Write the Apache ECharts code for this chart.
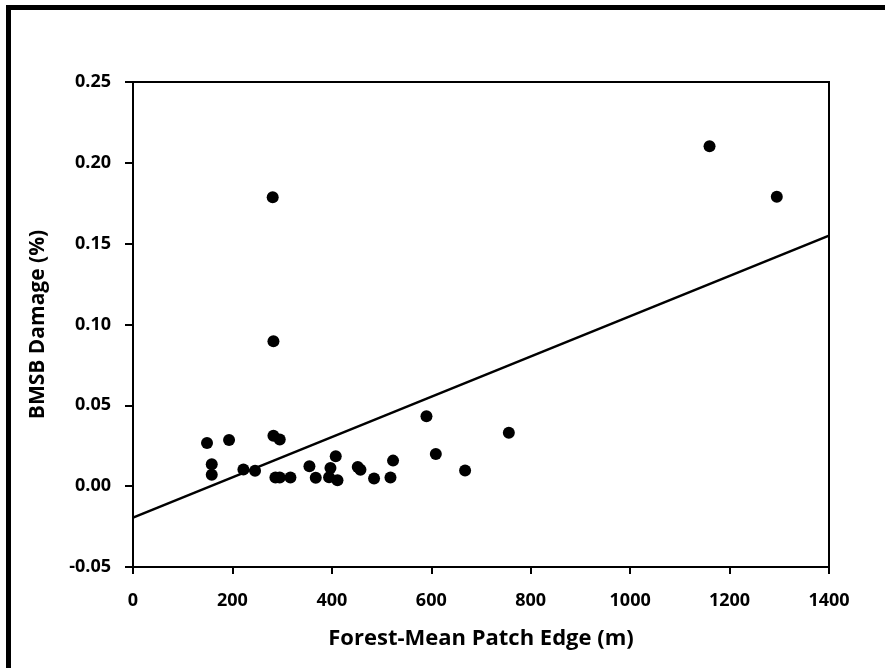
<!DOCTYPE html>
<html>
<head>
<meta charset="utf-8">
<script src="https://cdn.jsdelivr.net/npm/echarts@6/dist/echarts.min.js"></script>
<style>
html,body{margin:0;padding:0;background:#fff;}
#chart{width:885px;height:668px;}
</style>
</head>
<body>
<div id="chart"></div>
<script>
// Forest-Mean Patch Edge (m)
const edgeX = [148.9, 158.4, 158.4, 193.2, 222.1, 245.5, 282.5, 295.2, 286.5, 295.2,
               316.7, 354.9, 367.6, 394.4, 397.2, 407.8, 411.3, 452.1, 457.5, 484.9,
               517.9, 523.1, 590.3, 609.1, 668.0, 756.0, 281.0, 282.5, 1159.7, 1295.0];
// BMSB Damage (%)
const damageY = [0.0267, 0.0135, 0.0070, 0.0286, 0.0103, 0.0095, 0.0312, 0.0289, 0.0054, 0.0054,
                 0.0054, 0.0123, 0.0052, 0.0055, 0.0113, 0.0185, 0.0037, 0.0119, 0.0101, 0.0047,
                 0.0054, 0.0158, 0.0433, 0.0199, 0.0097, 0.0330, 0.1787, 0.0897, 0.2103, 0.1790];
// Regression line endpoints
const trendX = [0, 1400];
const trendY = [-0.0195, 0.155];
const xTicks = {min: 0, max: 1400, interval: 200};
const yTicks = {min: -0.05, max: 0.25, interval: 0.05};

const points = edgeX.map((x, i) => [x, damageY[i]]);
const trend = trendX.map((x, i) => [x, trendY[i]]);

const font = '"Open Sans", "DejaVu Sans", sans-serif';
const chart = echarts.init(document.getElementById('chart'));
chart.setOption({
  backgroundColor: '#fff',
  animation: false,
  graphic: [{
    type: 'rect',
    shape: {x: 8.5, y: 7.5, width: 920, height: 720},
    style: {fill: 'none', stroke: '#000', lineWidth: 5},
    silent: true
  }],
  grid: {left: 133, right: 56, top: 82, bottom: 101, show: true, borderColor: '#000', borderWidth: 2},
  xAxis: {
    type: 'value', min: xTicks.min, max: xTicks.max, interval: xTicks.interval,
    name: 'Forest-Mean Patch Edge (m)', nameLocation: 'middle', nameGap: 61,
    nameTextStyle: {fontFamily: font, fontWeight: 'bold', fontSize: 22, color: '#000'},
    axisLine: {show: true, onZero: false, lineStyle: {color: '#000', width: 2}},
    axisTick: {show: true, inside: false, length: 7, lineStyle: {color: '#000', width: 2}},
    axisLabel: {margin: 25, fontFamily: font, fontWeight: 'bold', fontSize: 18, color: '#000',
                formatter: v => String(v)},
    splitLine: {show: false}
  },
  yAxis: {
    type: 'value', min: yTicks.min, max: yTicks.max, interval: yTicks.interval,
    name: 'BMSB Damage (%)', nameLocation: 'middle', nameGap: 84, nameRotate: 90,
    nameTextStyle: {fontFamily: font, fontWeight: 'bold', fontSize: 21, color: '#000'},
    axisLine: {show: true, onZero: false, lineStyle: {color: '#000', width: 2}},
    axisTick: {show: true, inside: false, length: 8, lineStyle: {color: '#000', width: 2}},
    axisLabel: {margin: 22, fontFamily: font, fontWeight: 'bold', fontSize: 18, color: '#000',
                formatter: v => (Math.round(v * 100) / 100).toFixed(2)},
    splitLine: {show: false}
  },
  series: [
    {type: 'line', data: trend, symbol: 'none', lineStyle: {color: '#000', width: 2.5}, z: 2},
    {type: 'scatter', data: points, symbol: 'circle', symbolSize: 12,
     itemStyle: {color: '#000', opacity: 1}, z: 3}
  ]
});
</script>
</body>
</html>
